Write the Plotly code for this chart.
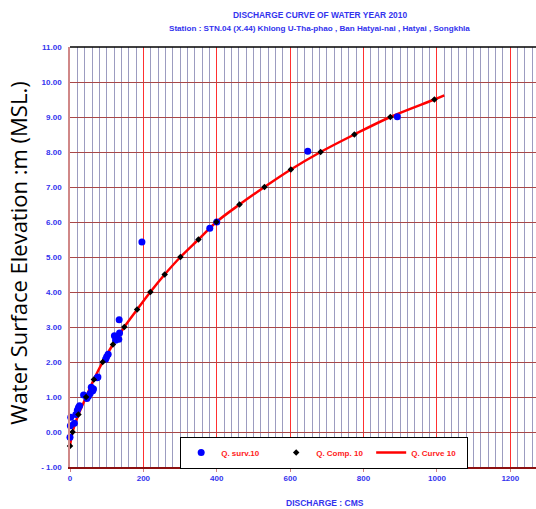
import plotly.graph_objects as go

# Survey discharge measurements (Q. surv.10)
surv_q = [0, 1, 2, 12, 16, 20, 23, 26, 37, 46, 50, 55, 58, 62, 64, 74, 76,
          97, 100, 104, 121, 124, 128, 133, 135, 134, 196, 381, 400, 648, 892]
surv_h = [-0.15, 0.18, 0.42, 0.25, 0.5, 0.62, 0.7, 0.75, 1.06, 0.96, 1.02, 1.1,
          1.28, 1.18, 1.23, 1.55, 1.57, 2.08, 2.15, 2.22, 2.75, 2.62, 2.68, 2.65,
          2.83, 3.21, 5.43, 5.82, 6.0, 8.02, 9.01]

# Computed points (Q. Comp. 10)
comp_q = [0, 7, 23, 44, 65, 89, 117, 148, 183, 219, 258, 301, 350, 399, 462,
          530, 602, 683, 775, 873, 993]
comp_h = [-0.4, 0.0, 0.5, 1.0, 1.5, 2.0, 2.5, 3.0, 3.5, 4.0, 4.5, 5.0, 5.5, 6.0,
          6.5, 7.0, 7.5, 8.0, 8.5, 9.0, 9.5]

# Rating curve (Q. Curve 10)
curve_q = comp_q + [1020]
curve_h = comp_h + [9.62]

x_ticks = [0, 200, 400, 600, 800, 1000, 1200]
y_ticks = [-1, 0, 1, 2, 3, 4, 5, 6, 7, 8, 9, 10, 11]
y_labels = ["- 1.00", "0.00", "1.00", "2.00", "3.00", "4.00", "5.00", "6.00",
            "7.00", "8.00", "9.00", "10.00", "11.00"]

FONT = "Liberation Sans, Arial"
BLUE = "#3333ee"

fig = go.Figure()
fig.add_trace(go.Scatter(x=curve_q, y=curve_h, mode="lines", name="<b>Q. Curve 10</b>",
                         line=dict(color="#ff0000", width=2.5, shape="spline"),
                         legendrank=3))
fig.add_trace(go.Scatter(x=surv_q, y=surv_h, mode="markers", name="<b>Q. surv.10</b>",
                         marker=dict(color="#0000ff", size=7, symbol="circle"),
                         cliponaxis=False, legendrank=1))
fig.add_trace(go.Scatter(x=comp_q, y=comp_h, mode="markers", name="<b>Q. Comp. 10</b>",
                         marker=dict(color="#000000", size=5, symbol="diamond"),
                         cliponaxis=False, legendrank=2))

fig.update_layout(
    width=536, height=509,
    margin=dict(l=70, r=0, t=47, b=42),
    paper_bgcolor="white", plot_bgcolor="white",
    showlegend=True,
    legend=dict(orientation="h", x=0.236, y=0.072, xanchor="left", yanchor="top",
                bgcolor="white", bordercolor="black", borderwidth=1.2,
                font=dict(family=FONT, size=8, color="#ff1a1a"),
                entrywidth=50, entrywidthmode="pixels", itemwidth=30,
                traceorder="normal"),
    xaxis=dict(range=[0, 1270], tickvals=x_ticks, ticktext=[f"<b>{v}</b>" for v in x_ticks],
               tickfont=dict(family=FONT, size=8, color=BLUE),
               showgrid=True, gridcolor="#ff3030", gridwidth=1,
               minor=dict(dtick=20, tick0=0, showgrid=True, gridcolor="#9c9cc0", gridwidth=1),
               showline=True, linecolor="#8b1010", linewidth=1.5,
               ticks="outside", ticklen=3, tickcolor="#d08080",
               zeroline=False, fixedrange=True),
    yaxis=dict(range=[-1, 11], tickvals=y_ticks, ticktext=[f"<b>{t}</b>" for t in y_labels],
               tickfont=dict(family=FONT, size=8, color=BLUE),
               showgrid=True, gridcolor="#a84848", gridwidth=1.3,
               showline=True, linecolor="#d08888", linewidth=1.5,
               zeroline=False, ticks="", ticklabelstandoff=5, fixedrange=True),
    annotations=[
        dict(text="<b>DISCHARGE CURVE OF WATER YEAR 2010</b>", xref="paper", yref="paper",
             x=0.536, y=1.077, showarrow=False, xanchor="center", yanchor="middle",
             font=dict(family=FONT, size=8.4, color=BLUE)),
        dict(text="<b>Station : STN.04 (X.44) Khlong U-Tha-phao , Ban Hatyai-nai , Hatyai , Songkhla</b>",
             xref="paper", yref="paper", x=0.536, y=1.0436, showarrow=False,
             xanchor="center", yanchor="middle",
             font=dict(family=FONT, size=8.1, color=BLUE)),
        dict(text="<b>DISCHARGE : CMS</b>", xref="paper", yref="paper", x=0.547, y=-0.085,
             showarrow=False, xanchor="center", yanchor="middle",
             font=dict(family=FONT, size=8.5, color=BLUE)),
        dict(text="Water Surface Elevation :m (MSL.)", xref="paper", yref="paper",
             x=(18 - 70) / 466, y=(467.3 - 254) / 420, textangle=-90, showarrow=False,
             xanchor="center", yanchor="middle",
             font=dict(family="Open Sans", size=22, color="black")),
    ],
    shapes=[dict(type="line", xref="paper", yref="paper", x0=0, x1=1, y0=1, y1=1,
                 line=dict(color="black", width=1.5))],
)

fig.write_html("out.html", config={"displayModeBar": False},
               post_script="document.body.style.margin='0px';document.body.style.padding='0px';")
